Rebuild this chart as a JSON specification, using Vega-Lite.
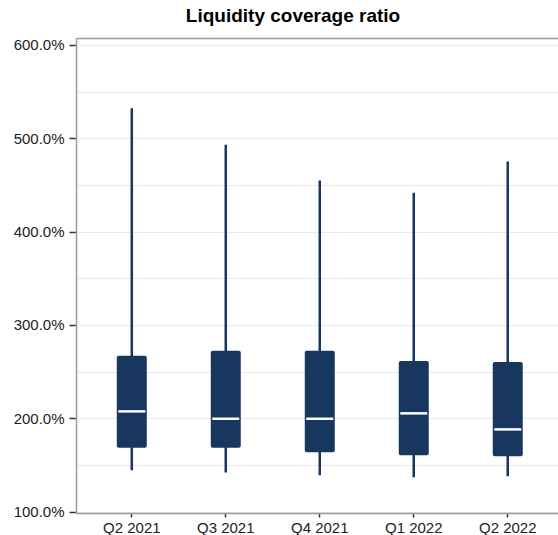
{
  "$schema": "https://vega.github.io/schema/vega-lite/v6.json",
  "autosize": "none",
  "padding": {"left": 76, "top": 38, "right": 0, "bottom": 22},
  "width": 482,
  "height": 475,
  "background": "white",
  "config": {
    "view": {"stroke": null},
    "font": "Liberation Sans"
  },
  "title": {
    "text": "Liquidity coverage ratio",
    "font": "Liberation Sans",
    "fontSize": 19,
    "fontWeight": "bold",
    "color": "#000000",
    "anchor": "middle",
    "frame": "group",
    "baseline": "alphabetic",
    "offset": 15,
    "dy": 18,
    "dx": -24
  },
  "data": {
    "values": [
      {"quarter": "Q2 2021", "min": 144.5, "q1": 168.5, "median": 207.5, "q3": 267, "max": 532},
      {"quarter": "Q3 2021", "min": 142, "q1": 168.5, "median": 199.6, "q3": 272.5, "max": 493},
      {"quarter": "Q4 2021", "min": 139, "q1": 163.8, "median": 199.6, "q3": 272.5, "max": 454.6},
      {"quarter": "Q1 2022", "min": 137, "q1": 160.6, "median": 205.4, "q3": 261.5, "max": 441.7},
      {"quarter": "Q2 2022", "min": 138, "q1": 159.5, "median": 188.2, "q3": 260.4, "max": 475}
    ]
  },
  "resolve": {"axis": {"x": "independent"}},
  "layer": [
    {
      "mark": {"type": "rule", "color": "#18375f", "strokeWidth": 2.5},
      "encoding": {
        "x": {
          "field": "quarter", "type": "nominal", "sort": null,
          "scale": {"paddingInner": 0, "paddingOuter": 0.064, "align": 0.73},
          "axis": {
            "title": null, "labelAngle": 0, "labelFontSize": 15, "labelColor": "#222222",
            "labelFont": "Liberation Sans", "tickColor": "#333333", "tickSize": 4, "tickWidth": 1.5,
            "labelPadding": 3, "domainColor": "#9a9a9a", "domainWidth": 1.5, "grid": false
          }
        },
        "y": {
          "field": "min", "type": "quantitative",
          "scale": {"domain": [98.7, 607.3], "nice": false, "zero": false},
          "axis": {
            "title": null,
            "values": [100, 150, 200, 250, 300, 350, 400, 450, 500, 550, 600],
            "labelExpr": "datum.value % 100 === 0 ? format(datum.value, '.1f') + '%' : ''",
            "labelFontSize": 15, "labelColor": "#222222", "labelFont": "Liberation Sans",
            "tickSize": 7, "tickWidth": 1.5, "tickColor": "#333333", "labelPadding": 5,
            "tickOpacity": {"condition": {"test": "datum.value % 100 !== 0", "value": 0}, "value": 1},
            "grid": true, "gridColor": "#e9e9e9", "gridWidth": 1,
            "domain": true, "domainColor": "#9a9a9a", "domainWidth": 1.5
          }
        },
        "y2": {"field": "max"}
      }
    },
    {
      "mark": {"type": "bar", "color": "#18375f", "size": 30, "cornerRadius": 2},
      "encoding": {
        "x": {
          "field": "quarter", "type": "nominal", "sort": null,
          "axis": {"orient": "top", "labels": false, "ticks": false, "domain": true,
                   "domainColor": "#9a9a9a", "domainWidth": 1.5, "title": null, "grid": false}
        },
        "y": {"field": "q1", "type": "quantitative"},
        "y2": {"field": "q3"}
      }
    },
    {
      "mark": {"type": "tick", "color": "#ffffff", "size": 27, "thickness": 2.5, "opacity": 1},
      "encoding": {
        "x": {"field": "quarter", "type": "nominal", "sort": null, "axis": null},
        "y": {"field": "median", "type": "quantitative"}
      }
    }
  ]
}
